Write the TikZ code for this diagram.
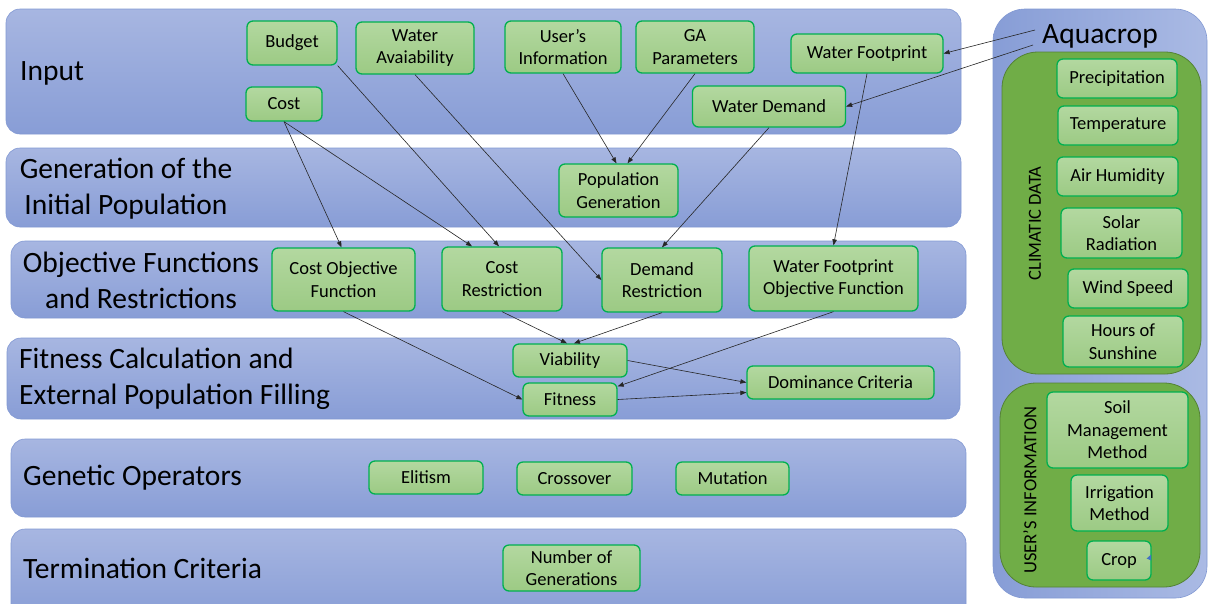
\documentclass[tikz,border=0pt]{standalone}
\usepackage{fontspec}
\setmainfont{Carlito}
\usetikzlibrary{arrows.meta,calc}
\definecolor{bandtop}{HTML}{A7B6E1}
\definecolor{bandbot}{HTML}{889DD6}
\definecolor{bandline}{HTML}{8299D3}
\definecolor{boxtop}{HTML}{B3D8A0}
\definecolor{boxbot}{HTML}{9CCA84}
\definecolor{boxline}{HTML}{00B050}
\definecolor{grpfill}{HTML}{70AD47}
\definecolor{grpline}{HTML}{548235}
\definecolor{panl}{HTML}{879DD6}
\definecolor{panr}{HTML}{AABAE4}
\definecolor{tricol}{HTML}{4472C4}
\begin{document}
\begin{tikzpicture}[x=1pt,y=-1pt,
  band/.style={rounded corners=14pt, top color=bandtop, bottom color=bandbot, draw=bandline, line width=0.6pt},
  panel/.style={rounded corners=32pt, left color=panl, right color=panr, draw=bandline, line width=0.6pt},
  grp/.style={rounded corners=36pt, fill=grpfill, draw=grpline, line width=0.8pt},
  gbox/.style={draw=boxline, line width=1.3pt, rounded corners=6pt, top color=boxtop, bottom color=boxbot,
    inner sep=0pt, align=center, font=\fontsize{18.5}{22.5}\selectfont, text=black},
  sz/.style 2 args={minimum width=#1pt, minimum height=#2pt},
  ttl/.style={inner sep=0pt, font=\fontsize{29.5}{36}\selectfont, text=black},
  vlab/.style={inner sep=0pt, rotate=90, font=\fontsize{18.5}{22}\selectfont, text=black},
  conn/.style={draw=black!85, line width=0.6pt, -{Triangle[length=6pt,width=4.5pt]}}]
\useasboundingbox (0,0) rectangle (1209,603);
\clip (0,0) rectangle (1209,603);
\fill[white] (0,0) rectangle (1209,603);

% bands
\path[band] (6,9) rectangle (961,134);
\path[band] (6,148) rectangle (961,227);
\path[band] (11,241) rectangle (966,318);
\path[band] (7,338) rectangle (960,419);
\path[band] (11,439) rectangle (966,517);
\path[band] (11,529) rectangle (966,620);

% right panel
\path[panel] (993,9) rectangle (1207,598);
\path[grp] (1002,52) rectangle (1201,374);
\path[grp] (1000,383) rectangle (1200,587);

% titles
\node[ttl, anchor=west] (tin) at (20,73) {Input};
\node[ttl, align=center] (tgen) at (126,189) {Generation of the\\Initial Population};
\node[ttl, align=center] (tobj) at (141,280.5) {Objective Functions\\and Restrictions};
\node[ttl, align=left, anchor=west] (tfit) at (19,379) {Fitness Calculation and\\External Population Filling};
\node[ttl, anchor=west] (tgo) at (23,478) {Genetic Operators};
\node[ttl, anchor=west] (tterm) at (23,568) {Termination Criteria};
\node[ttl] (aqua) at (1100,36) {Aquacrop};
\node[vlab] (clim) at (1035,223.5) {CLIMATIC DATA};
\node[vlab] (uinf) at (1030,490) {USER’S INFORMATION};

% input boxes
\node[gbox, sz={90}{44}] (budget) at (292,43) {Budget};
\node[gbox, sz={118}{52}] (wava) at (415,48) {Water\\Avaiability};
\node[gbox, sz={116}{52}] (uinfo) at (563,47) {User’s\\Information};
\node[gbox, sz={118}{52}] (gapar) at (695,47) {GA\\Parameters};
\node[gbox, sz={152}{39}] (wfoot) at (867,53.5) {Water Footprint};
\node[gbox, sz={76}{34}] (cost) at (284,104) {Cost};
\node[gbox, sz={153}{41}] (wdem) at (769,106.5) {Water Demand};

% generation
\node[gbox, sz={119}{53}] (popgen) at (618.5,190.5) {Population\\Generation};

% objective functions
\node[gbox, sz={143}{63}] (cobj) at (343.5,279.5) {Cost Objective\\Function};
\node[gbox, sz={120}{64}] (cres) at (502,279) {Cost\\Restriction};
\node[gbox, sz={120}{64}] (dres) at (662,280) {Demand\\Restriction};
\node[gbox, sz={169}{65}] (wfobj) at (833.5,278.5) {Water Footprint\\Objective Function};

% fitness
\node[gbox, sz={114}{33}] (viab) at (570,360.5) {Viability};
\node[gbox, sz={94}{33}] (fit) at (570,399.5) {Fitness};
\node[gbox, sz={187}{33}] (domc) at (840.5,382.5) {Dominance Criteria};

% genetic operators
\node[gbox, sz={114}{33}] (elit) at (426,477.5) {Elitism};
\node[gbox, sz={115}{33}] (cross) at (574.5,478.5) {Crossover};
\node[gbox, sz={113}{33}] (mut) at (732.5,478.5) {Mutation};

% termination
\node[gbox, sz={137}{46}] (ngen) at (571.5,568) {Number of\\Generations};

% climatic data
\node[gbox, sz={120}{39}] (prec) at (1117,78.5) {Precipitation};
\node[gbox, sz={120}{39}] (temp) at (1118,125.5) {Temperature};
\node[gbox, sz={121}{39}] (airh) at (1117.5,176.5) {Air Humidity};
\node[gbox, sz={121}{50}] (solar) at (1121.5,233) {Solar\\Radiation};
\node[gbox, sz={120}{39}] (wind) at (1128,288.5) {Wind Speed};
\node[gbox, sz={120}{51}] (hours) at (1123,341.5) {Hours of\\Sunshine};

% user's information
\node[gbox, sz={141}{76}] (soil) at (1117.5,430) {Soil\\Management\\Method};
\node[gbox, sz={97}{56}] (irr) at (1119.5,503) {Irrigation\\Method};
\node[gbox, sz={64}{39}] (crop) at (1119,560.5) {Crop};
\fill[tricol] ([xshift=-5pt,yshift=2pt]crop.east) -- ([xshift=-0.5pt,yshift=6pt]crop.east) -- ([xshift=-0.5pt]crop.east) -- cycle;

% connectors
\draw[conn] (budget.south east) -- ([xshift=-3pt]cres.north);
\draw[conn] (wava.south) -- (dres.west);
\draw[conn] (uinfo.south) -- ([xshift=-2pt]popgen.north);
\draw[conn] (gapar.south) -- ([xshift=9pt]popgen.north);
\draw[conn] ([xshift=-7pt,yshift=6pt]aqua.west) -- (wfoot.east);
\draw[conn] ([xshift=-9pt,yshift=-9pt]aqua.west) -- (wdem.east);
\draw[conn] (wfoot.south) -- (wfobj.north);
\draw[conn] (wdem.south) -- (dres.north);
\draw[conn] (cost.south) -- ([xshift=-2pt]cobj.north);
\draw[conn] (cost.south) -- ([xshift=-30pt]cres.north);
\draw[conn] (cobj.south) -- (fit.west);
\draw[conn] (cres.south) -- ([xshift=-3pt]viab.north);
\draw[conn] (dres.south) -- ([xshift=4pt]viab.north);
\draw[conn] (wfobj.south) -- ([yshift=-4pt]fit.north east);
\draw[conn] (viab.east) -- (domc.west);
\draw[conn] (fit.east) -- ([yshift=-10pt]domc.west);
\end{tikzpicture}
\end{document}
